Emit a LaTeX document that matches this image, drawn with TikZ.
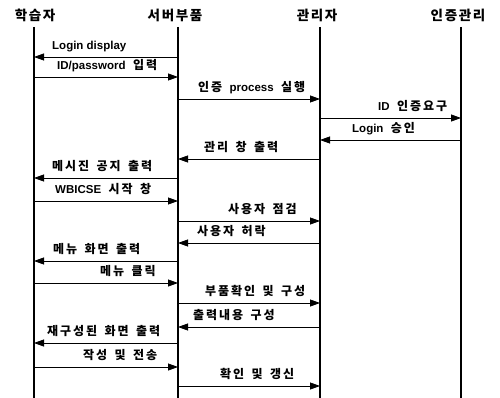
\documentclass[tikz,border=0pt]{standalone}
\usepackage{fontspec}
\setmainfont{Liberation Sans}
\newfontfamily\latn{Liberation Sans}
\newfontfamily\kr[LetterSpace=16,WordSpace=1.6]{Noto Sans CJK KR}
\newfontfamily\krh[LetterSpace=12]{Noto Sans CJK KR}
\usetikzlibrary{arrows.meta}
\newcommand\lt[1]{{\fontsize{11.5}{13}\latn #1}}
\newcommand\seqmsg[6]{%
  \coordinate (#1a) at (#2 |- 0,#4);
  \coordinate (#1b) at (#3 |- 0,#4);
  \draw[msg] (#1a) -- (#1b);
  \node[lbl] (#1l) at (#5,#4-7.5) {#6};
}
\tikzset{
  life/.style={line width=1.1pt},
  msg/.style={line width=0.8pt,-{Triangle[length=10pt,width=7pt]}},
  lbl/.style={anchor=base west,inner sep=0pt,font=\fontsize{12}{13}\kr\bfseries},
  hdr/.style={inner sep=0pt,font=\fontsize{13.5}{14}\krh\bfseries}
}
\begin{document}
\begin{tikzpicture}[x=1pt,y=-1pt]
\useasboundingbox (0,0) rectangle (500,398);
% headers
\node[hdr] (hA) at (35,15) {학습자};
\node[hdr] (hB) at (175,15) {서버부품};
\node[hdr] (hC) at (317,15) {관리자};
\node[hdr] (hD) at (458,15) {인증관리};
% lifelines
\coordinate (A) at (34,27);  \coordinate (Ae) at (34,398);
\coordinate (B) at (178,27); \coordinate (Be) at (178,398);
\coordinate (C) at (320,27); \coordinate (Ce) at (320,398);
\coordinate (D) at (461,27); \coordinate (De) at (461,398);
\draw[life] (A) -- (Ae);
\draw[life] (B) -- (Be);
\draw[life] (C) -- (Ce);
\draw[life] (D) -- (De);
% messages
\seqmsg{m1}{B}{A}{57}{52}{\lt{Login display}}
\seqmsg{m2}{A}{B}{77}{57}{\lt{ID/password} 입력}
\seqmsg{m3}{B}{C}{99}{198}{인증 \lt{process} 실행}
\seqmsg{m4}{C}{D}{118}{378}{\lt{ID} 인증요구}
\seqmsg{m5}{D}{C}{140}{352}{\lt{Login} 승인}
\seqmsg{m6}{C}{B}{159}{204}{관리 창 출력}
\seqmsg{m7}{B}{A}{178}{52}{메시진 공지 출력}
\seqmsg{m8}{A}{B}{201}{55}{\lt{WBICSE} 시작 창}
\seqmsg{m9}{B}{C}{221}{228}{사용자 점검}
\seqmsg{m10}{C}{B}{243}{197}{사용자 허락}
\seqmsg{m11}{B}{A}{261}{53}{메뉴 화면 출력}
\seqmsg{m12}{A}{B}{283}{100}{메뉴 클릭}
\seqmsg{m13}{B}{C}{303}{205}{부품확인 및 구성}
\seqmsg{m14}{C}{B}{327}{193}{출력내용 구성}
\seqmsg{m15}{B}{A}{343}{47}{재구성된 화면 출력}
\seqmsg{m16}{A}{B}{367}{83}{작성 및 전송}
\seqmsg{m17}{B}{C}{386}{220}{확인 및 갱신}
\end{tikzpicture}
\end{document}
